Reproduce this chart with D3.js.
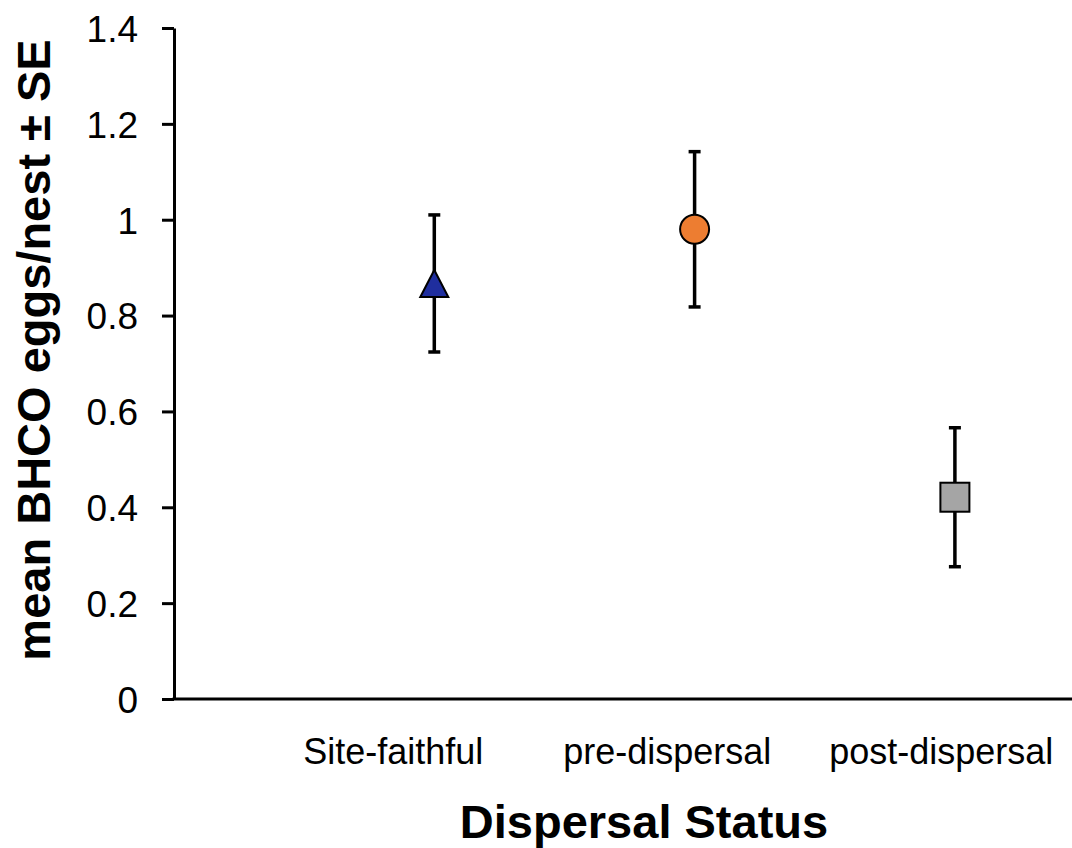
<!DOCTYPE html>
<html>
<head>
<meta charset="utf-8">
<script src="https://cdn.jsdelivr.net/npm/d3@7"></script>
<style>
  html, body { margin: 0; padding: 0; background: #ffffff; }
  svg { display: block; }
  text { font-family: "Liberation Sans", Arial, Helvetica, sans-serif; fill: #000; }
</style>
</head>
<body>
<svg id="chart" width="1072" height="848"></svg>
<script>
// Dispersal groups and their mean BHCO eggs per nest with standard errors
const categories = ["Site-faithful", "pre-dispersal", "post-dispersal"];
const categoryPos = [1, 2, 3];
const pointX = [1.15, 2.1, 3.05];
const means = [0.867, 0.98, 0.421];
const se = [0.143, 0.162, 0.145];
const markerShapes = ["triangle", "circle", "square"];
const markerFills = ["#1f2e9e", "#ed7d31", "#a5a5a5"];
const yTicks = [0, 0.2, 0.4, 0.6, 0.8, 1, 1.2, 1.4];

const svg = d3.select("#chart");

const x = d3.scaleLinear().domain([0.2, 3.5]).range([174, 174 + 3.3 * 274]);
const y = d3.scaleLinear().domain([0, 1.4]).range([699, 28]);

// Y axis with outward ticks
const yAxis = d3.axisLeft(y)
  .tickValues(yTicks)
  .tickSize(12)
  .tickSizeOuter(0)
  .tickPadding(24)
  .tickFormat(d => d3.format("")(+d.toFixed(1)));

const gy = svg.append("g")
  .attr("transform", `translate(${x(0.2)},0)`)
  .call(yAxis);
gy.select(".domain").attr("stroke", "#000").attr("stroke-width", 3);
gy.selectAll(".tick line").attr("stroke", "#000").attr("stroke-width", 3);
gy.selectAll(".tick text")
  .style("font-size", "37px")
  .attr("fill", "#000")
  .attr("dy", "0.36em");

// X axis baseline, no ticks
svg.append("line")
  .attr("x1", x(0.2) - 1.5).attr("x2", 1072)
  .attr("y1", y(0)).attr("y2", y(0))
  .attr("stroke", "#000").attr("stroke-width", 3);

// Category labels
svg.append("g").selectAll("text")
  .data(categories)
  .join("text")
  .attr("x", (d, i) => x(categoryPos[i]))
  .attr("y", 764)
  .attr("text-anchor", "middle")
  .style("font-size", "36px")
  .text(d => d);

// Axis titles
svg.append("text")
  .attr("x", 644).attr("y", 838)
  .attr("text-anchor", "middle")
  .style("font-size", "47px")
  .style("font-weight", "bold")
  .text("Dispersal Status");

svg.append("text")
  .attr("transform", `translate(50,350) rotate(-90)`)
  .attr("text-anchor", "middle")
  .style("font-size", "47px")
  .style("font-weight", "bold")
  .text("mean BHCO eggs/nest \u00b1 SE");

// Error bars
const data = categories.map((c, i) => ({
  name: c, px: pointX[i], mean: means[i], se: se[i],
  shape: markerShapes[i], fill: markerFills[i]
}));

const eb = svg.append("g").selectAll("g")
  .data(data)
  .join("g")
  .attr("stroke", "#000")
  .attr("stroke-width", 3.5);
eb.append("line")
  .attr("x1", d => x(d.px)).attr("x2", d => x(d.px))
  .attr("y1", d => y(d.mean + d.se)).attr("y2", d => y(d.mean - d.se));
eb.append("line")
  .attr("x1", d => x(d.px) - 6).attr("x2", d => x(d.px) + 6)
  .attr("y1", d => y(d.mean + d.se)).attr("y2", d => y(d.mean + d.se));
eb.append("line")
  .attr("x1", d => x(d.px) - 6).attr("x2", d => x(d.px) + 6)
  .attr("y1", d => y(d.mean - d.se)).attr("y2", d => y(d.mean - d.se));

// Markers
const mk = svg.append("g").selectAll("g")
  .data(data)
  .join("g")
  .attr("transform", d => `translate(${x(d.px)},${y(d.mean)})`);

mk.each(function(d) {
  const g = d3.select(this);
  if (d.shape === "circle") {
    g.append("circle").attr("r", 14.5);
  } else if (d.shape === "square") {
    g.append("rect").attr("x", -14.5).attr("y", -14.5).attr("width", 29).attr("height", 29);
  } else {
    g.append("path").attr("d", "M0,-13.5 L14,13.5 L-14,13.5 Z");
  }
  g.selectAll("*")
    .attr("fill", d.fill)
    .attr("stroke", "#000")
    .attr("stroke-width", 2)
    .attr("stroke-linejoin", "miter");
});
</script>
</body>
</html>
